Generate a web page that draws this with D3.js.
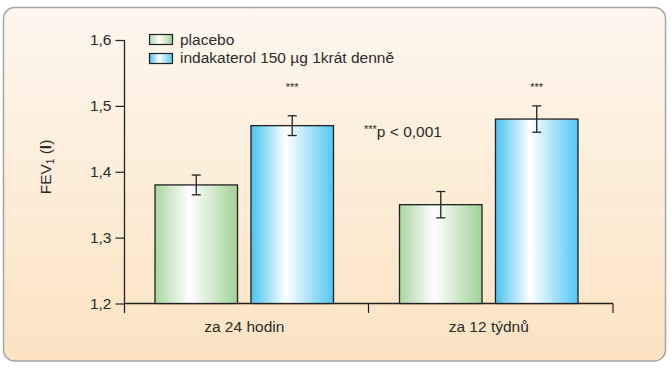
<!DOCTYPE html>
<html><head><meta charset="utf-8">
<script src="https://cdn.jsdelivr.net/npm/d3@7"></script>
<style>
html,body{margin:0;padding:0;background:#fff;}
svg{display:block;}
text{font-family:"Liberation Sans",Arial,Helvetica,sans-serif;fill:#2b2b2b;}
</style></head>
<body><svg id="chart" width="672" height="367"></svg>
<script>
const categories = ["za 24 hodin", "za 12 týdnů"];
const seriesNames = ["placebo", "indakaterol 150 µg 1krát denně"];
const placeboValues = [1.38, 1.35];
const placeboErrors = [0.015, 0.02];
const indakaterolValues = [1.47, 1.48];
const indakaterolErrors = [0.015, 0.02];
const significance = ["***", "***"];
const yTicks = [1.2, 1.3, 1.4, 1.5, 1.6];
const yDomain = [1.2, 1.6];

const series = [
  {name: seriesNames[0], values: placeboValues, errors: placeboErrors, grad: "gGreen"},
  {name: seriesNames[1], values: indakaterolValues, errors: indakaterolErrors, grad: "gBlue"}
];

const FS = 15.5;
const svg = d3.select("#chart");
const defs = svg.append("defs");

const bg = defs.append("linearGradient").attr("id","bgGrad").attr("x1",0).attr("y1",0).attr("x2",0).attr("y2",1);
bg.append("stop").attr("offset","0%").attr("stop-color","#fef7ee");
bg.append("stop").attr("offset","100%").attr("stop-color","#fbe3c3");

function hGrad(id, left, right){
  const g = defs.append("linearGradient").attr("id",id).attr("x1",0).attr("y1",0).attr("x2",1).attr("y2",0);
  g.append("stop").attr("offset","0%").attr("stop-color",left);
  g.append("stop").attr("offset","42%").attr("stop-color","#ffffff");
  g.append("stop").attr("offset","100%").attr("stop-color",right);
}
hGrad("gGreen", "#aad7a2", "#a2d198");
hGrad("gBlue", "#47c2f0", "#52c7f3");

// panel
svg.append("rect").attr("x",3.5).attr("y",7.5).attr("width",662).attr("height",353.5)
  .attr("rx",11).attr("ry",11).attr("fill","url(#bgGrad)")
  .attr("stroke","#a9a6a2").attr("stroke-width",1.5);

const x0 = d3.scaleBand().domain(categories).range([124, 613]).padding(0);
const x1 = d3.scaleBand().domain(seriesNames).range([31, 209.5]).paddingInner(0.14);
const y = d3.scaleLinear().domain(yDomain).range([303.5, 40]);

// y axis
const yAxis = d3.axisLeft(y).tickValues(yTicks).tickSize(9).tickPadding(4)
  .tickFormat(d => d3.format(".1f")(d).replace(".", ","));
const gy = svg.append("g").attr("transform","translate(124.5,0)").call(yAxis);
gy.select(".domain").remove();
gy.append("line").attr("x1",0).attr("x2",0).attr("y1",y(1.6)).attr("y2",313).attr("stroke","#222").attr("stroke-width",1.3);
gy.selectAll(".tick line").attr("stroke","#222").attr("stroke-width",1.2);
gy.selectAll(".tick text").attr("font-size",FS).attr("fill","#2b2b2b")
  .attr("font-family","'Liberation Sans',Arial,sans-serif");

// x axis
svg.append("line").attr("x1",124.5).attr("x2",613).attr("y1",303.5).attr("y2",303.5).attr("stroke","#222").attr("stroke-width",1.4);
const xTickPos = categories.map(c => x0(c) + x0.bandwidth());
svg.selectAll(".xt").data(xTickPos).enter().append("line")
  .attr("x1",d=>d).attr("x2",d=>d).attr("y1",303.5).attr("y2",313).attr("stroke","#222").attr("stroke-width",1.2);
svg.selectAll(".xl").data(categories).enter().append("text")
  .attr("x",(d,i)=>x0(d)+x1.range()[0]+(x1.range()[1]-x1.range()[0])/2)
  .attr("y",331.5).attr("text-anchor","middle").attr("font-size",FS).text(d=>d);

// bars
const groups = svg.selectAll(".grp").data(categories).enter().append("g")
  .attr("transform",d=>`translate(${x0(d)},0)`);
series.forEach(s => {
  groups.append("rect")
    .attr("x",x1(s.name)).attr("width",x1.bandwidth())
    .attr("y",(d,i)=>y(s.values[i])).attr("height",(d,i)=>y(yDomain[0])-y(s.values[i]))
    .attr("fill",`url(#${s.grad})`).attr("stroke","#222").attr("stroke-width",1.3);
  const cx = x1(s.name)+x1.bandwidth()/2;
  groups.append("line").attr("x1",cx).attr("x2",cx)
    .attr("y1",(d,i)=>y(s.values[i]+s.errors[i])).attr("y2",(d,i)=>y(s.values[i]-s.errors[i]))
    .attr("stroke","#222").attr("stroke-width",1.3);
  [1,-1].forEach(sg => {
    groups.append("line").attr("x1",cx-4.5).attr("x2",cx+4.5)
      .attr("y1",(d,i)=>y(s.values[i]+sg*s.errors[i])).attr("y2",(d,i)=>y(s.values[i]+sg*s.errors[i]))
      .attr("stroke","#222").attr("stroke-width",1.3);
  });
});
// significance stars
groups.append("text")
  .attr("x",x1(seriesNames[1])+x1.bandwidth()/2).attr("y",91)
  .attr("text-anchor","middle").attr("font-size",11).attr("fill","#555")
  .text((d,i)=>significance[i]);

// p-value note
const note = svg.append("text").attr("x",364).attr("y",137).attr("font-size",FS);
note.append("tspan").attr("font-size",11).attr("dy",-4).text("***");
note.append("tspan").attr("dy",4).text("p < 0,001");

// y label
const yl = svg.append("text").attr("transform","translate(51,167) rotate(-90)")
  .attr("text-anchor","middle").attr("font-size",FS);
yl.append("tspan").text("FEV");
yl.append("tspan").attr("font-size",10).attr("dy",3).text("1");
yl.append("tspan").attr("dy",-3).text(" (");
yl.append("tspan").attr("font-weight","bold").text("l");
yl.append("tspan").text(")");

// legend
const lg = svg.append("g");
series.forEach((s, i) => {
  lg.append("rect").attr("x",149.5).attr("y",34.5 + i*19).attr("width",23).attr("height",10)
    .attr("fill",`url(#${s.grad})`).attr("stroke","#222").attr("stroke-width",1.2);
  lg.append("text").attr("x",180).attr("y",45 + i*18).attr("font-size",FS).text(s.name);
});
</script></body></html>
